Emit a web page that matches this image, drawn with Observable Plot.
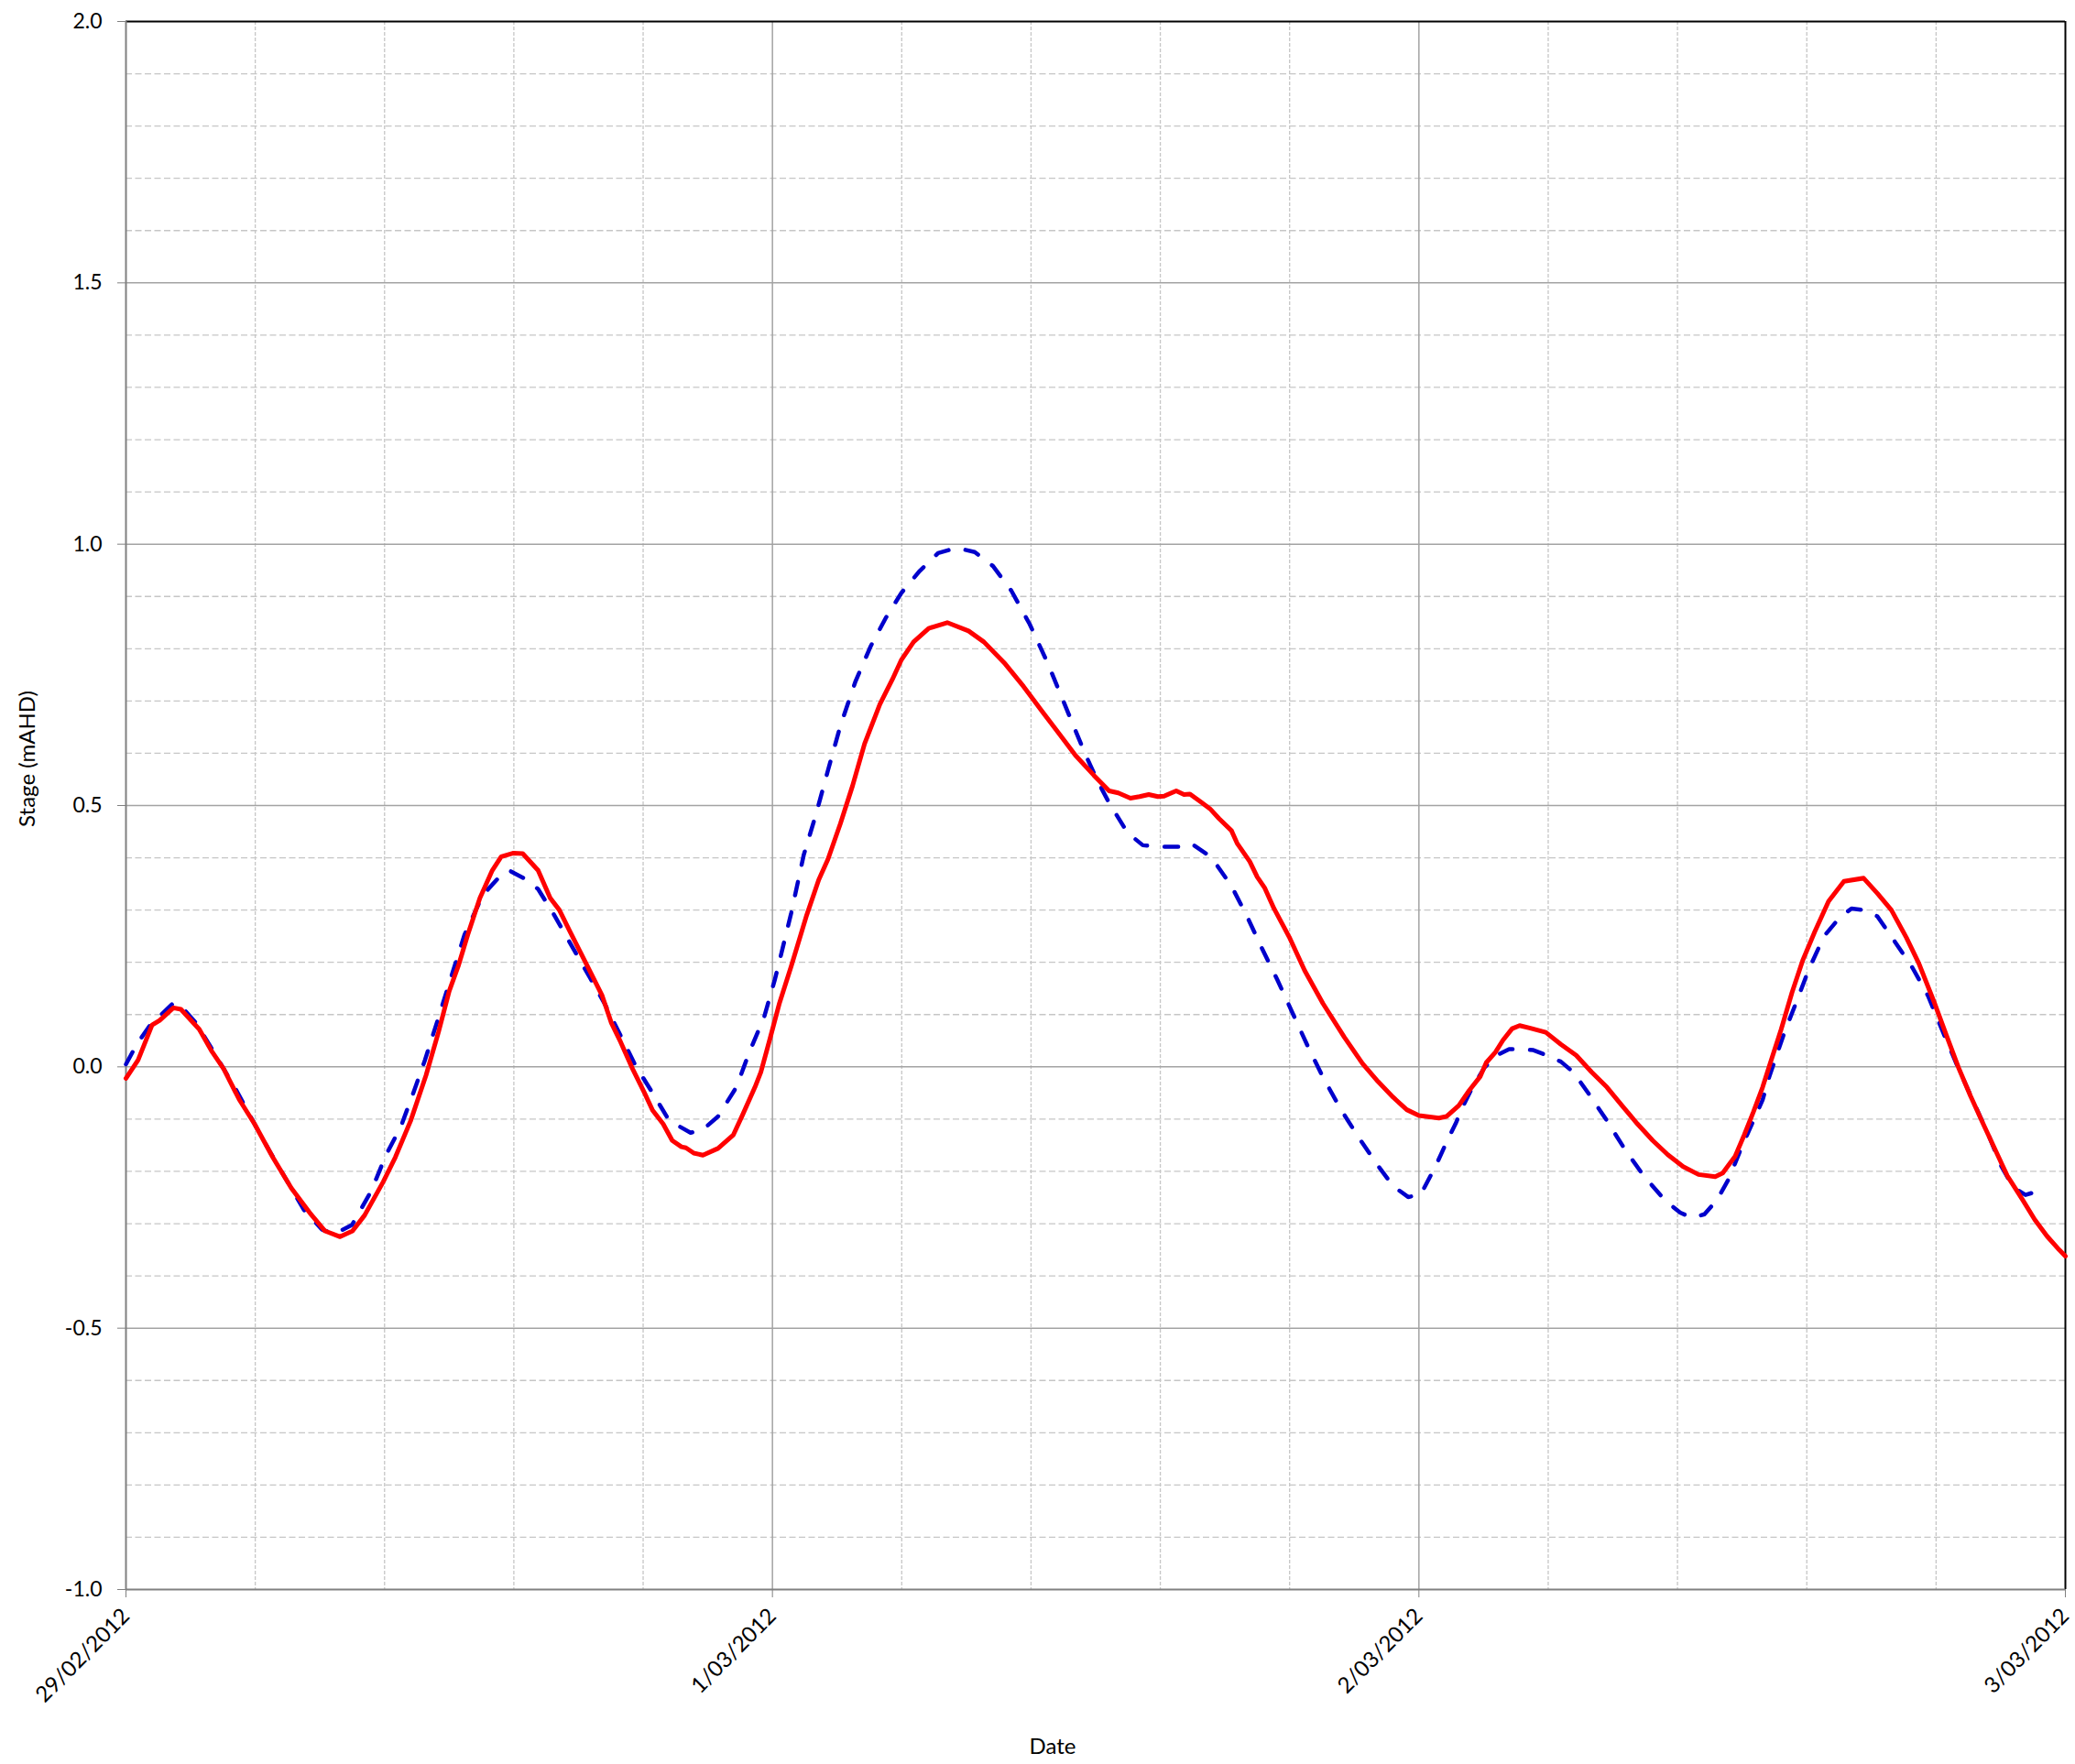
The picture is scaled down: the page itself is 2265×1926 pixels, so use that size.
<!DOCTYPE html>
<html>
<head>
<meta charset="utf-8">
<script src="https://cdn.jsdelivr.net/npm/d3@7"></script>
<script src="https://cdn.jsdelivr.net/npm/@observablehq/plot@0.6"></script>
<style>
  html, body { margin: 0; padding: 0; background: #fff; }
  #chart { width: 2265px; height: 1926px; }
</style>
</head>
<body>
<div id="chart"></div>
<script>
// Day boundaries shown on the date axis
const dayTicks = ["2012-02-29", "2012-03-01", "2012-03-02", "2012-03-03"];
// Labelled stage values on the vertical axis (mAHD)
const stageTicks = [-1.0, -0.5, 0.0, 0.5, 1.0, 1.5, 2.0];

// Recorded stage (red, solid): hours after 29/02/2012 00:00 and level in mAHD
const recordedHours = [0.0, 0.45, 0.97, 1.25, 1.76, 2.04, 2.72, 3.17, 3.63, 4.2, 4.77, 5.45, 6.14, 6.82, 7.39, 7.95, 8.41, 8.86, 9.55, 10.0, 10.57, 11.14, 11.6, 12.0, 12.35, 12.69, 13.14, 13.6, 13.93, 14.39, 14.73, 15.3, 15.75, 16.09, 16.54, 17.11, 17.68, 18.02, 18.36, 18.81, 19.26, 19.55, 19.94, 20.28, 20.62, 20.79, 21.08, 21.42, 21.98, 22.55, 22.89, 23.35, 23.57, 23.91, 24.25, 24.7, 25.27, 25.72, 26.06, 26.52, 26.97, 27.42, 27.99, 28.45, 28.79, 29.24, 29.8, 30.49, 31.28, 31.85, 32.64, 33.32, 34.0, 34.68, 35.25, 35.93, 36.5, 36.84, 37.29, 37.63, 37.97, 38.31, 38.54, 38.99, 39.28, 39.5, 39.9, 40.24, 40.58, 41.04, 41.26, 41.72, 42.0, 42.28, 42.62, 43.19, 43.76, 44.44, 45.23, 45.91, 46.48, 47.04, 47.55, 48.0, 48.74, 49.02, 49.48, 49.87, 50.27, 50.5, 50.84, 51.12, 51.46, 51.74, 52.14, 52.71, 53.27, 53.84, 54.41, 54.98, 55.54, 56.11, 56.68, 57.24, 57.81, 58.38, 59.0, 59.28, 59.74, 60.08, 60.42, 60.76, 61.0, 61.45, 61.85, 62.25, 62.7, 63.21, 63.78, 64.51, 65.02, 65.54, 66.1, 66.56, 67.12, 67.58, 68.03, 68.48, 68.94, 69.39, 69.84, 70.41, 70.86, 71.32, 71.77, 72.0];
const recordedStage = [-0.022, 0.013, 0.08, 0.089, 0.113, 0.11, 0.072, 0.031, -0.004, -0.062, -0.109, -0.173, -0.232, -0.279, -0.314, -0.325, -0.314, -0.284, -0.22, -0.173, -0.103, -0.016, 0.066, 0.145, 0.195, 0.253, 0.323, 0.376, 0.402, 0.409, 0.408, 0.376, 0.323, 0.30, 0.253, 0.195, 0.136, 0.084, 0.048, -0.004, -0.051, -0.083, -0.109, -0.141, -0.153, -0.155, -0.165, -0.169, -0.156, -0.13, -0.092, -0.039, -0.01, 0.054, 0.12, 0.193, 0.29, 0.358, 0.397, 0.465, 0.537, 0.618, 0.694, 0.741, 0.779, 0.813, 0.839, 0.85, 0.834, 0.813, 0.771, 0.728, 0.681, 0.635, 0.596, 0.558, 0.528, 0.524, 0.514, 0.517, 0.521, 0.517, 0.518, 0.528, 0.521, 0.522, 0.507, 0.494, 0.475, 0.452, 0.427, 0.393, 0.363, 0.342, 0.303, 0.248, 0.184, 0.121, 0.057, 0.006, -0.028, -0.058, -0.082, -0.093, -0.098, -0.095, -0.074, -0.045, -0.019, 0.008, 0.028, 0.051, 0.073, 0.079, 0.074, 0.066, 0.043, 0.022, -0.01, -0.039, -0.074, -0.109, -0.141, -0.168, -0.191, -0.206, -0.21, -0.203, -0.171, -0.13, -0.086, -0.039, 0.0, 0.072, 0.142, 0.204, 0.259, 0.317, 0.355, 0.361, 0.332, 0.30, 0.247, 0.198, 0.125, 0.061, -0.001, -0.056, -0.108, -0.158, -0.208, -0.254, -0.292, -0.324, -0.35, -0.362];

// Modelled stage (blue, dashed)
const modelledHours = [0.0, 0.4, 0.9, 1.76, 2.1, 2.6, 3.3, 4.1, 4.77, 5.34, 6.0, 6.6, 7.27, 7.73, 8.4, 9.1, 9.66, 10.2, 10.66, 11.1, 11.57, 12.0, 12.57, 13.25, 13.82, 14.22, 14.84, 15.3, 15.86, 16.54, 17.22, 17.79, 18.36, 18.92, 19.49, 20.17, 20.96, 21.42, 21.98, 22.66, 23.12, 23.69, 24.08, 24.25, 24.7, 25.16, 25.61, 26.06, 26.52, 27.08, 27.65, 28.22, 28.79, 29.47, 30.15, 30.83, 31.51, 32.19, 32.87, 33.55, 34.23, 34.91, 35.59, 36.04, 36.5, 37.18, 37.75, 38.31, 39.22, 39.56, 40.13, 40.47, 41.04, 41.6, 42.17, 42.74, 43.3, 43.87, 44.44, 45.12, 45.8, 46.48, 47.04, 47.6, 48.06, 48.63, 49.08, 49.36, 49.65, 49.99, 50.44, 50.89, 51.35, 51.8, 52.25, 52.65, 53.27, 53.73, 54.3, 54.98, 55.66, 56.34, 57.13, 57.7, 58.15, 58.6, 59.06, 59.51, 59.96, 60.42, 60.76, 61.0, 61.57, 62.02, 62.47, 63.04, 63.61, 64.06, 64.51, 65.02, 65.65, 66.33, 66.9, 67.46, 68.03, 68.6, 69.16, 69.62, 70.07, 70.52, 71.03];
const modelledStage = [0.005, 0.043, 0.08, 0.122, 0.113, 0.084, 0.025, -0.045, -0.109, -0.162, -0.22, -0.273, -0.311, -0.32, -0.302, -0.238, -0.168, -0.115, -0.051, 0.013, 0.089, 0.16, 0.253, 0.329, 0.361, 0.376, 0.359, 0.34, 0.294, 0.232, 0.171, 0.119, 0.06, 0.002, -0.045, -0.103, -0.126, -0.12, -0.095, -0.039, 0.025, 0.095, 0.165, 0.2, 0.295, 0.405, 0.482, 0.567, 0.652, 0.737, 0.805, 0.86, 0.907, 0.949, 0.983, 0.993, 0.985, 0.958, 0.911, 0.847, 0.771, 0.686, 0.601, 0.55, 0.505, 0.448, 0.424, 0.421, 0.421, 0.427, 0.407, 0.388, 0.346, 0.29, 0.227, 0.167, 0.104, 0.04, -0.02, -0.083, -0.138, -0.189, -0.228, -0.249, -0.245, -0.189, -0.138, -0.109, -0.074, -0.039, -0.001, 0.022, 0.034, 0.034, 0.032, 0.024, 0.01, -0.01, -0.051, -0.103, -0.159, -0.208, -0.255, -0.279, -0.289, -0.282, -0.255, -0.214, -0.156, -0.103, -0.063, -0.02, 0.066, 0.125, 0.186, 0.25, 0.285, 0.303, 0.30, 0.288, 0.241, 0.189, 0.136, 0.066, -0.003, -0.068, -0.132, -0.19, -0.231, -0.245, -0.237];

const days = dayTicks.map(s => new Date(s + "T00:00:00Z"));
const start = days[0], end = days[days.length - 1];
const atHour = h => new Date(start.getTime() + h * 3600e3);

const recorded = recordedHours.map((h, i) => ({time: atHour(h), stage: recordedStage[i]}));
const modelled = modelledHours.map((h, i) => ({time: atHour(h), stage: modelledStage[i]}));

// Minor grid: every 0.2 day along x, every 0.1 m along y (majors drawn separately)
const minorX = d3.range(1, 15).filter(k => k % 5 !== 0)
  .map(k => new Date(start.getTime() + k * 0.2 * 86400e3));
const minorY = d3.range(-9, 20).filter(k => k % 5 !== 0).map(k => k / 10);

const dayLabel = d => `${d.getUTCDate()}/${String(d.getUTCMonth() + 1).padStart(2, "0")}/${d.getUTCFullYear()}`;

const chart = Plot.plot({
  width: 2265,
  height: 1926,
  marginLeft: 137,
  marginRight: 11,
  marginTop: 23,
  marginBottom: 191,
  style: {fontFamily: "Lato, 'Open Sans', sans-serif", fontSize: "23px", color: "#000", background: "#fff"},
  x: {type: "utc", domain: [start, end]},
  y: {domain: [-1, 2]},
  marks: [
    Plot.ruleY(minorY, {stroke: "#c6c6c6", strokeWidth: 1.3, strokeDasharray: "7,3.5"}),
    Plot.ruleX(minorX, {stroke: "#c6c6c6", strokeWidth: 1.3, strokeDasharray: "4,2"}),
    Plot.ruleY(stageTicks.slice(1, -1), {stroke: "#a3a3a3", strokeWidth: 1.5}),
    Plot.ruleX(days.slice(1, -1), {stroke: "#a3a3a3", strokeWidth: 1.5}),
    Plot.ruleY([2], {stroke: "#000", strokeWidth: 2}),
    Plot.ruleX([end], {stroke: "#000", strokeWidth: 2}),
    Plot.ruleY([-1], {stroke: "#808080", strokeWidth: 2}),
    Plot.ruleX([start], {stroke: "#808080", strokeWidth: 2}),
    Plot.axisY({ticks: stageTicks, tickFormat: d => d.toFixed(1), tickSize: 9, tickPadding: 17,
      stroke: "#808080", fill: "#000", label: null, fontSize: 23}),
    Plot.axisX({ticks: days, tickFormat: dayLabel, tickRotate: -45, tickSize: 9, tickPadding: 16,
      stroke: "#808080", fill: "#000", label: null, fontSize: 24}),
    Plot.line(modelled, {x: "time", y: "stage", stroke: "#0000cc", strokeWidth: 4.5,
      strokeDasharray: "15,19", strokeLinecap: "round", strokeLinejoin: "round"}),
    Plot.line(recorded, {x: "time", y: "stage", stroke: "#ff0000", strokeWidth: 5,
      strokeLinejoin: "round"}),
    Plot.text(["Date"], {frameAnchor: "bottom", textAnchor: "middle", lineAnchor: "middle",
      dx: -47, dy: 172, fontSize: 24}),
    Plot.text(["Stage (mAHD)"], {frameAnchor: "left", textAnchor: "middle", lineAnchor: "middle",
      rotate: -90, dx: -107, dy: -51, fontSize: 24})
  ]
});

document.getElementById("chart").appendChild(chart);
</script>
</body>
</html>
